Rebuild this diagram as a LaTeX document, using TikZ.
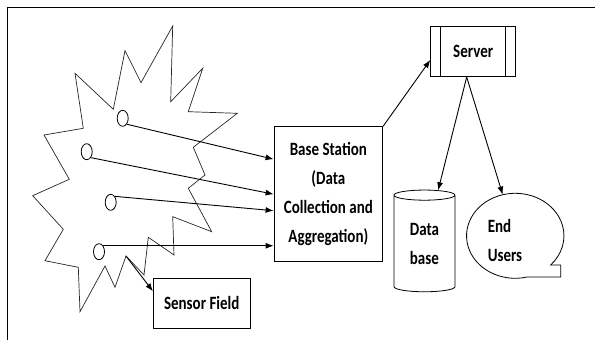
\documentclass[tikz,border=0pt]{standalone}
\usepackage{fontspec}
\setmainfont{Carlito}[FakeStretch=0.8]
\usetikzlibrary{arrows.meta,shapes.geometric}

\tikzset{
  lbl/.style={font=\bfseries\fontsize{18.75}{29}\selectfont, inner sep=0.75pt},
  flow/.style={line width=0.9pt, -{Latex[length=8pt,width=6pt]}},
  mote/.style={draw, ellipse, line width=0.8pt, minimum width=11pt, minimum height=16pt, inner sep=0pt},
}

\begin{document}
\begin{tikzpicture}[x=1pt,y=1pt,yscale=-1,xscale=1]
\useasboundingbox (0,0) rectangle (595,340);

%Frame
\draw [line width=1.4pt] (7.3,340) -- (7.3,7.5) -- (595,7.5);

%Shape: Star (sensor field)
\draw [line width=0.7pt, color=black!85] (172.7,26) -- (170.7,101.7) -- (202.7,68.3) -- (188.3,111.7) -- (237.3,113.3) -- (193.3,147.3) -- (205,175) -- (188.3,188.3) -- (211.7,231.7) -- (172.7,216.7) -- (174,255) -- (148.3,237.3) -- (144,275) -- (126,256) -- (115,287.3) -- (105,266) -- (80,311.7) -- (78.3,267.3) -- (45,260.7) -- (63.3,229.3) -- (32.7,195.7) -- (69.3,179.3) -- (44,135) -- (83.3,128.3) -- (75,73.3) -- (113.3,109.3) -- (125,50.7) -- (141,82.7) -- cycle ;
\coordinate (spike) at (126,256);

%Shape: Ellipse (sensor nodes)
\node [mote] (m1) at (122.7,118.3) {};
\node [mote] (m2) at (86.7,151.7) {};
\node [mote] (m3) at (110.7,202.3) {};
\node [mote] (m4) at (99,251.7) {};

%Shape: Rectangle
\node [lbl, draw, line width=0.8pt, minimum width=108.7pt, minimum height=135pt, align=center] (bs) at (328.35,194.2) {Base Station\\(Data\\Collection and\\Aggregation)};
\node [lbl, draw, line width=0.8pt, minimum width=96.7pt, minimum height=50pt] (sf) at (201.7,303.3) {Sensor Field};

%Shape: Predefined process
\node [lbl, draw, line width=0.8pt, minimum width=85pt, minimum height=50.7pt] (sv) at (473.2,51.3) {Server};
\draw [line width=0.8pt] ([xshift=10pt]sv.north west) -- ([xshift=10pt]sv.south west);
\draw [line width=0.8pt] ([xshift=-10.7pt]sv.north east) -- ([xshift=-10.7pt]sv.south east);

%Shape: Can
\node [lbl, draw, line width=0.8pt, cylinder, shape border rotate=90, aspect=0.33, minimum width=61pt, minimum height=101.7pt, align=left] (db) at (424.5,244.2) {Data\\base};

%Shape: Oval callout
\draw [line width=0.8pt] (550.7,265) -- (560.7,265) -- (560.7,277) -- (527.2,277) arc [start angle=75.8, end angle=403.4, x radius=48.7, y radius=42.5] -- cycle ;
\node [ellipse, minimum width=97.4pt, minimum height=85pt, inner sep=0pt] (eu) at (515.3,235.8) {};
% Text Node
\node [lbl, align=left] (eutxt) at (505,240) {End\\Users};

%Arrows
\draw [flow] (m1.south east) -- ([yshift=-35pt]bs.west);
\draw [flow] (m2.south east) -- (bs.west);
\draw [flow] (m3.north east) -- ([yshift=16.5pt]bs.west);
\draw [flow] (m4.north east) -- (m4.north east -| bs.west);
\draw [flow] (spike) -- ([yshift=-12pt]sf.west);
\draw [flow] (bs.north east) -- ([yshift=8.7pt]sv.west);
\draw [flow] ([xshift=-6.5pt]sv.south) -- (db);
\draw [flow] ([xshift=-6.5pt]sv.south) -- (eu);

\end{tikzpicture}
\end{document}
